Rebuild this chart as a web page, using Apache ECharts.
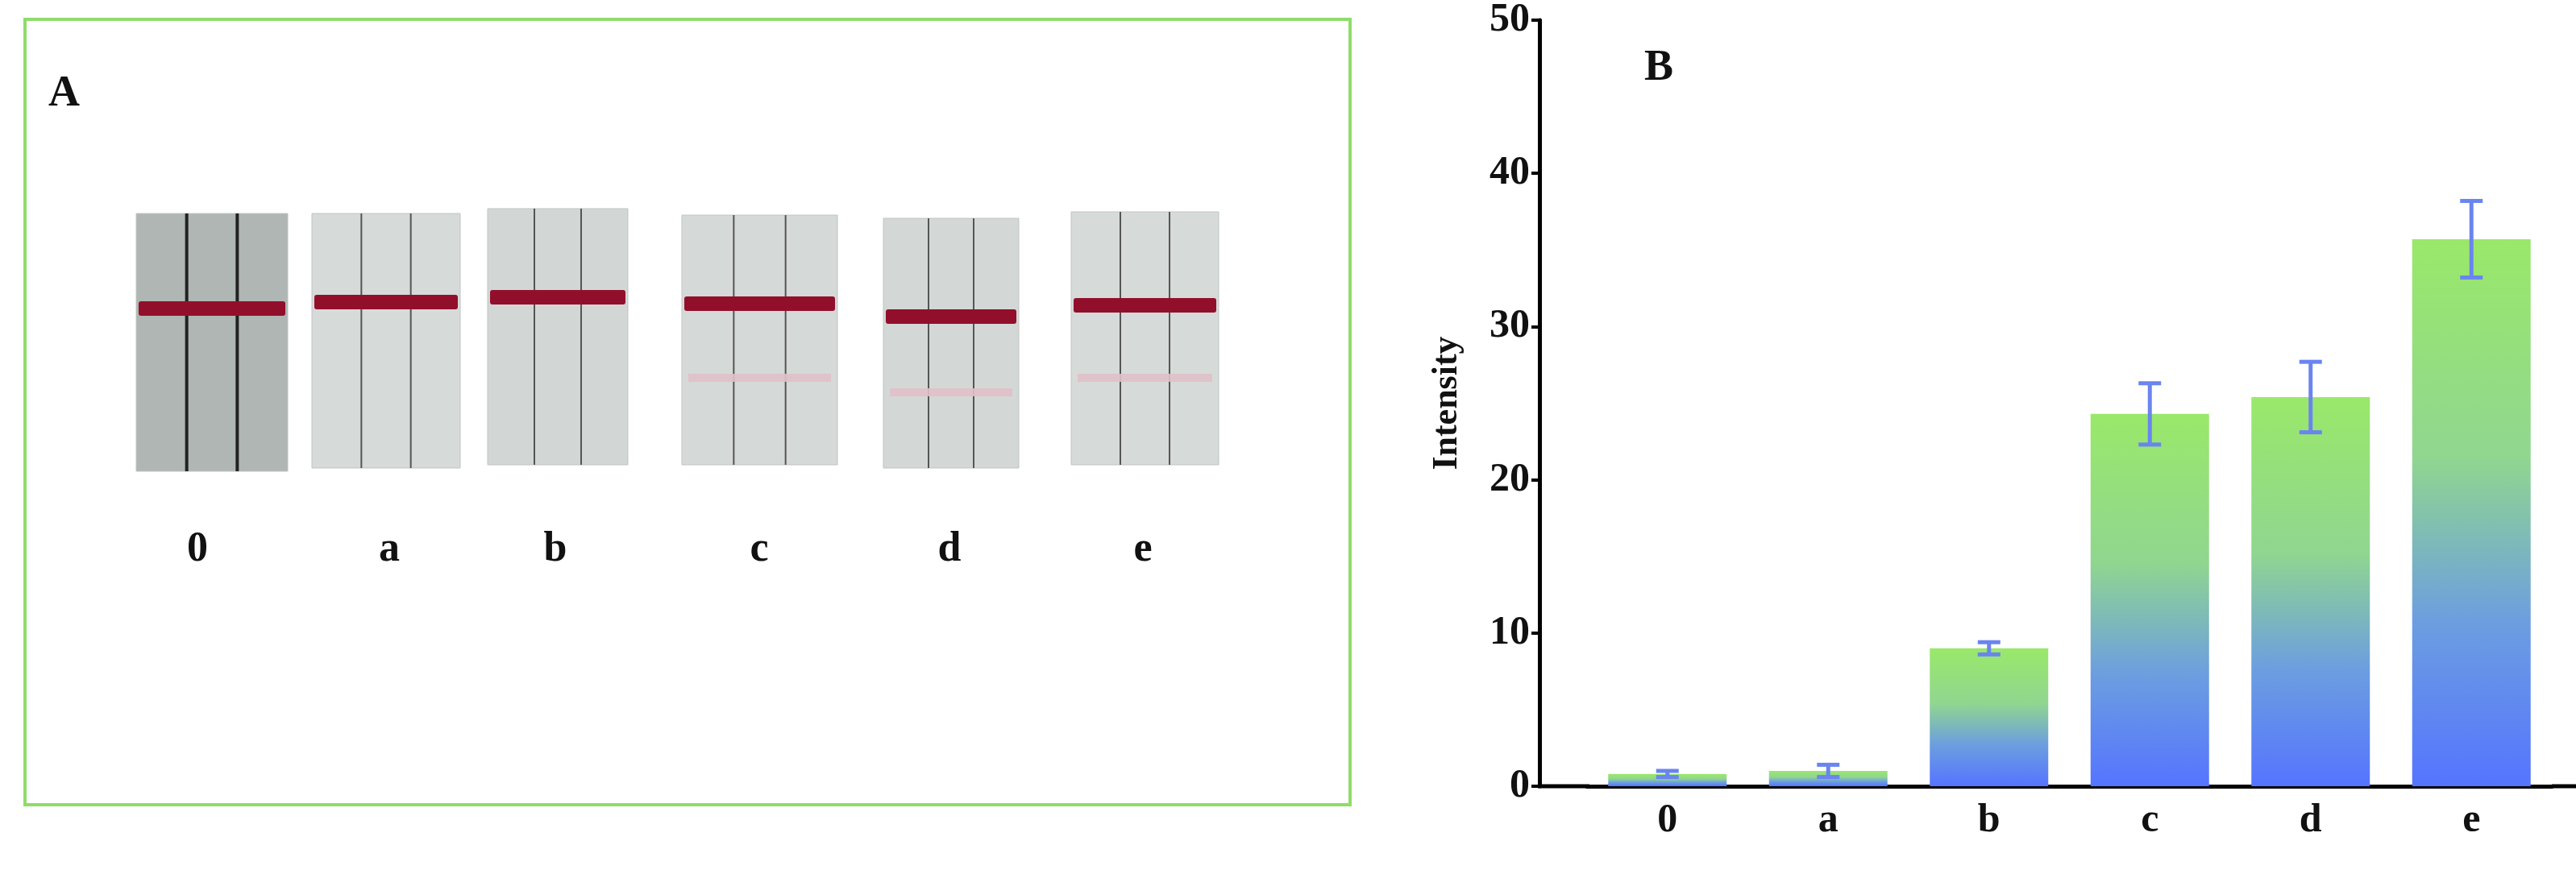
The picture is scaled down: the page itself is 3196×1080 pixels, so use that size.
<!DOCTYPE html>
<html>
<head>
<meta charset="utf-8">
<script src="https://cdn.jsdelivr.net/npm/echarts@6/dist/echarts.min.js"></script>
<style>html,body{margin:0;padding:0;background:#fff}#container{width:3196px;height:1080px}</style>
</head>
<body>
<div id="container"></div>
<script>
let chart = echarts.init(document.getElementById('container'));

// panel B data
var categories = ['0', 'a', 'b', 'c', 'd', 'e'];
var intensity = [0.8, 1.0, 9.0, 24.3, 25.4, 35.7];
var errors = [0.2, 0.4, 0.4, 2.0, 2.3, 2.5];

// panel A strips (photo layout)
var stripX = [[169, 357], [387, 571], [605, 779], [846, 1039], [1096, 1264], [1329, 1512]];
var stripY = [[265, 585], [265, 581], [259, 577], [267, 577], [271, 581], [263, 577]];
var controlY = [383, 375, 369, 377, 393, 379];
var testY = [null, null, null, 469, 487, 469];
var stripFill = ['#b0b6b3', '#d6dad8', '#d2d7d5', '#d5d9d7', '#d3d8d6', '#d6dad8'];
var labelX = [245, 483, 689, 942, 1178, 1418];

var serif = '"Liberation Serif", "DejaVu Serif", serif';

var graphics = [
    {type: 'rect', shape: {x: 31, y: 24, width: 1644, height: 975}, style: {fill: 'none', stroke: '#8fdc6a', lineWidth: 4}},
    {type: 'text', x: 60, y: 90, style: {text: 'A', font: 'bold 54px ' + serif, fill: '#111'}},
    {type: 'text', x: 2040, y: 58, style: {text: 'B', font: 'bold 54px ' + serif, fill: '#111'}},
    // axis line extensions
    {type: 'line', shape: {x1: 1908, y1: 976, x2: 1972, y2: 976}, style: {stroke: '#000', lineWidth: 5}},
    {type: 'line', shape: {x1: 3166, y1: 976, x2: 3196, y2: 976}, style: {stroke: '#000', lineWidth: 5}}
];
stripX.forEach((sx, i) => {
    let x0 = sx[0], x1 = sx[1], y0 = stripY[i][0], y1 = stripY[i][1];
    let w = x1 - x0;
    graphics.push({type: 'rect', shape: {x: x0, y: y0, width: w, height: y1 - y0}, style: {fill: stripFill[i], stroke: '#bfc4c2', lineWidth: 1}});
    [1, 2].forEach(k => {
        let lx = x0 + w * k / 3;
        graphics.push({type: 'line', shape: {x1: lx, y1: y0, x2: lx, y2: y1}, style: {stroke: i == 0 ? '#222' : '#555', lineWidth: i == 0 ? 4 : 2}});
    });
    graphics.push({type: 'rect', shape: {x: x0 + 3, y: controlY[i] - 9, width: w - 6, height: 18, r: 3}, style: {fill: '#920f2c'}});
    if (testY[i]) {
        graphics.push({type: 'rect', shape: {x: x0 + 8, y: testY[i] - 5, width: w - 16, height: 10}, style: {fill: '#e0c0c9', opacity: 0.9}});
    }
    graphics.push({type: 'text', x: labelX[i], y: 683, style: {text: categories[i], font: 'bold 52px ' + serif, fill: '#111', align: 'center', verticalAlign: 'middle'}});
});

var option = {
    backgroundColor: '#fff',
    animation: false,
    graphic: graphics,
    grid: {left: 1969, right: 30, top: 10, bottom: 104},
    xAxis: {
        type: 'category',
        data: categories,
        axisLine: {lineStyle: {color: '#000', width: 5}},
        axisTick: {show: false},
        axisLabel: {color: '#111', fontFamily: serif, fontWeight: 'bold', fontSize: 50, margin: 18}
    },
    yAxis: {
        type: 'value',
        min: 0,
        max: 50,
        interval: 10,
        offset: 59,
        splitLine: {show: false},
        axisLine: {show: true, lineStyle: {color: '#000', width: 5}},
        axisTick: {show: true, length: 10, lineStyle: {width: 4}},
        axisLabel: {color: '#111', fontFamily: serif, fontWeight: 'bold', fontSize: 50, margin: 12},
        name: 'Intensity',
        nameLocation: 'middle',
        nameGap: 92,
        nameTextStyle: {color: '#111', fontFamily: serif, fontWeight: 'bold', fontSize: 44}
    },
    series: [
        {
            type: 'bar',
            data: intensity,
            barWidth: 147,
            itemStyle: {
                color: new echarts.graphic.LinearGradient(0, 0, 0, 1, [
                    {offset: 0, color: '#9ae86a'},
                    {offset: 0.4, color: '#90d690'},
                    {offset: 0.7, color: '#6c9ee0'},
                    {offset: 1, color: '#5574ff'}
                ], false)
            }
        },
        {
            type: 'custom',
            z: 5,
            data: intensity.map((v, i) => [i, v - errors[i], v + errors[i]]),
            renderItem: function (params, api) {
                let lo = api.coord([api.value(0), api.value(1)]);
                let hi = api.coord([api.value(0), api.value(2)]);
                let cw = 14;
                let st = {stroke: '#6a84f0', lineWidth: 5};
                return {type: 'group', children: [
                    {type: 'line', shape: {x1: lo[0], y1: lo[1], x2: hi[0], y2: hi[1]}, style: st},
                    {type: 'line', shape: {x1: lo[0] - cw, y1: lo[1], x2: lo[0] + cw, y2: lo[1]}, style: st},
                    {type: 'line', shape: {x1: hi[0] - cw, y1: hi[1], x2: hi[0] + cw, y2: hi[1]}, style: st}
                ]};
            }
        }
    ]
};
chart.setOption(option);
</script>
</body>
</html>
